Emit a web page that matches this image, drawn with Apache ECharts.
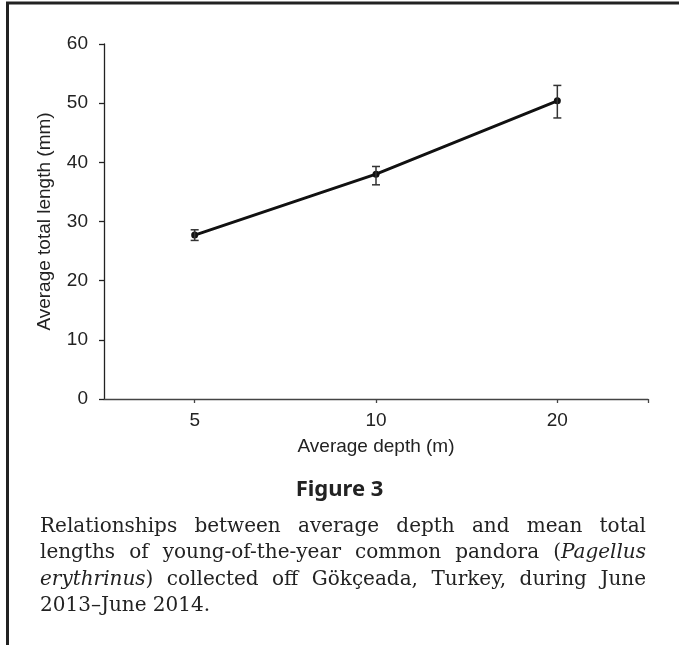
<!DOCTYPE html>
<html>
<head>
<meta charset="utf-8">
<style>
  html, body { margin: 0; padding: 0; background: #ffffff; }
  #chart { width: 679px; height: 645px; }
</style>
<script src="https://cdn.jsdelivr.net/npm/echarts@6/dist/echarts.min.js"></script>
</head>
<body>
<div id="chart"></div>
<script>
// ---- data ----
const categories = ['5', '10', '20'];
const meanLength = [27.7, 38.0, 50.4];
const errLow = [26.8, 36.2, 47.5];
const errHigh = [28.6, 39.3, 53.0];

const xAxisName = 'Average depth (m)';
const yAxisName = 'Average total length (mm)';
const figureTitle = 'Figure 3';
// italic parts wrapped in underscores
const captionLines = [
  'Relationships between average depth and mean total',
  'lengths of young-of-the-year common pandora (_Pagellus_',
  '_erythrinus_) collected off Gökçeada, Turkey, during June',
  '2013–June 2014.'
];

// ---- caption layout (justified) ----
const capFamily = '"DejaVu Serif"';
const capSize = 20;
const capLeft = 40, capRight = 646;
const capY0 = 527, capDy = 26.2;
const measureCtx = document.createElement('canvas').getContext('2d');
function measure(t, italic) {
  measureCtx.font = (italic ? 'italic ' : 'normal ') + 'normal ' + capSize + 'px ' + capFamily;
  return measureCtx.measureText(t).width;
}
function parseWord(w) {
  const parts = w.split('_');
  const segs = [];
  parts.forEach((p, k) => { if (p.length) segs.push({ t: p, i: k % 2 === 1 }); });
  return segs;
}
function buildLine(line, justify) {
  const words = line.split(' ').map(parseWord);
  let total = 0;
  words.forEach(segs => segs.forEach(s => { total += measure(s.t, s.i); }));
  const natural = measure(' ', false);
  let gap = natural;
  if (justify && words.length > 1) gap = (capRight - capLeft - total) / (words.length - 1);
  const str = words.map(segs => segs.map(s => '{' + (s.i ? 'it' : 'r') + '|' + s.t + '}').join('')).join('{g| }');
  const base = { fontFamily: capFamily, fontSize: capSize, fill: '#222', color: '#222' };
  return {
    text: str,
    rich: {
      r: Object.assign({}, base),
      it: Object.assign({ fontStyle: 'italic' }, base),
      g: Object.assign({ width: gap }, base)
    }
  };
}
const captionGraphics = captionLines.map((line, k) => {
  const b = buildLine(line, k < captionLines.length - 1);
  return {
    type: 'text',
    x: capLeft,
    y: capY0 + k * capDy,
    style: {
      text: b.text,
      rich: b.rich,
      fontFamily: capFamily,
      fontSize: capSize,
      fill: '#222',
      align: 'left',
      verticalAlign: 'middle'
    }
  };
});

const axisFont = '"Liberation Sans", Arial, sans-serif';

const chart = echarts.init(document.getElementById('chart'), null, { renderer: 'canvas' });
chart.setOption({
  backgroundColor: '#ffffff',
  animation: false,
  title: {
    text: figureTitle,
    left: 'center',
    top: 479,
    padding: 0,
    textStyle: { fontFamily: '"Noto Sans", sans-serif', fontWeight: 'bold', fontSize: 22, color: '#222' }
  },
  grid: { left: 104, right: 31, top: 44, bottom: 246, containLabel: false },
  xAxis: [
    {
      type: 'category',
      data: categories,
      boundaryGap: true,
      position: 'bottom',
      name: xAxisName,
      nameLocation: 'middle',
      nameGap: 38,
      nameTextStyle: { fontFamily: axisFont, fontSize: 19, color: '#222' },
      axisLine: { show: true, lineStyle: { color: '#444', width: 1.3 } },
      axisTick: { show: true, alignWithLabel: true, inside: false, length: 4, lineStyle: { color: '#444', width: 1.3 } },
      axisLabel: { margin: 12, fontFamily: axisFont, fontSize: 19, color: '#222' },
      splitLine: { show: false }
    },
    {
      type: 'value',
      min: 0,
      max: 1,
      interval: 1,
      position: 'bottom',
      axisLine: { show: false },
      axisTick: { show: true, inside: false, length: 4, lineStyle: { color: '#444', width: 1.3 }, customValues: [1] },
      axisLabel: { show: false },
      splitLine: { show: false }
    }
  ],
  yAxis: {
    type: 'value',
    min: 0,
    max: 60,
    interval: 10,
    name: yAxisName,
    nameLocation: 'middle',
    nameGap: 50,
    nameRotate: 90,
    nameTextStyle: { fontFamily: axisFont, fontSize: 19, color: '#222' },
    axisLine: { show: true, lineStyle: { color: '#222', width: 1.3 } },
    axisTick: { show: true, inside: false, length: 5, lineStyle: { color: '#222', width: 1.3 } },
    axisLabel: { margin: 16, fontFamily: axisFont, fontSize: 19, color: '#222' },
    splitLine: { show: false }
  },
  series: [
    {
      type: 'line',
      xAxisIndex: 0,
      data: meanLength,
      symbol: 'circle',
      symbolSize: 7,
      lineStyle: { color: '#111', width: 2.9 },
      itemStyle: { color: '#111' },
      z: 3
    },
    {
      type: 'custom',
      xAxisIndex: 0,
      data: categories.map((c, i) => [i, errLow[i], errHigh[i]]),
      renderItem: function (params, api) {
        const lo = api.coord([api.value(0), api.value(1)]);
        const hi = api.coord([api.value(0), api.value(2)]);
        const hw = 4;
        const st = { stroke: '#333', lineWidth: 1.5 };
        return {
          type: 'group',
          children: [
            { type: 'line', shape: { x1: hi[0], y1: hi[1], x2: lo[0], y2: lo[1] }, style: st },
            { type: 'line', shape: { x1: hi[0] - hw, y1: hi[1], x2: hi[0] + hw, y2: hi[1] }, style: st },
            { type: 'line', shape: { x1: lo[0] - hw, y1: lo[1], x2: lo[0] + hw, y2: lo[1] }, style: st }
          ]
        };
      },
      z: 4
    }
  ],
  graphic: [
    {
      type: 'polyline',
      shape: { points: [[7.5, 645], [7.5, 3], [679, 3]] },
      style: { stroke: '#222', lineWidth: 3, fill: null }
    }
  ].concat(captionGraphics)
});
</script>
</body>
</html>
